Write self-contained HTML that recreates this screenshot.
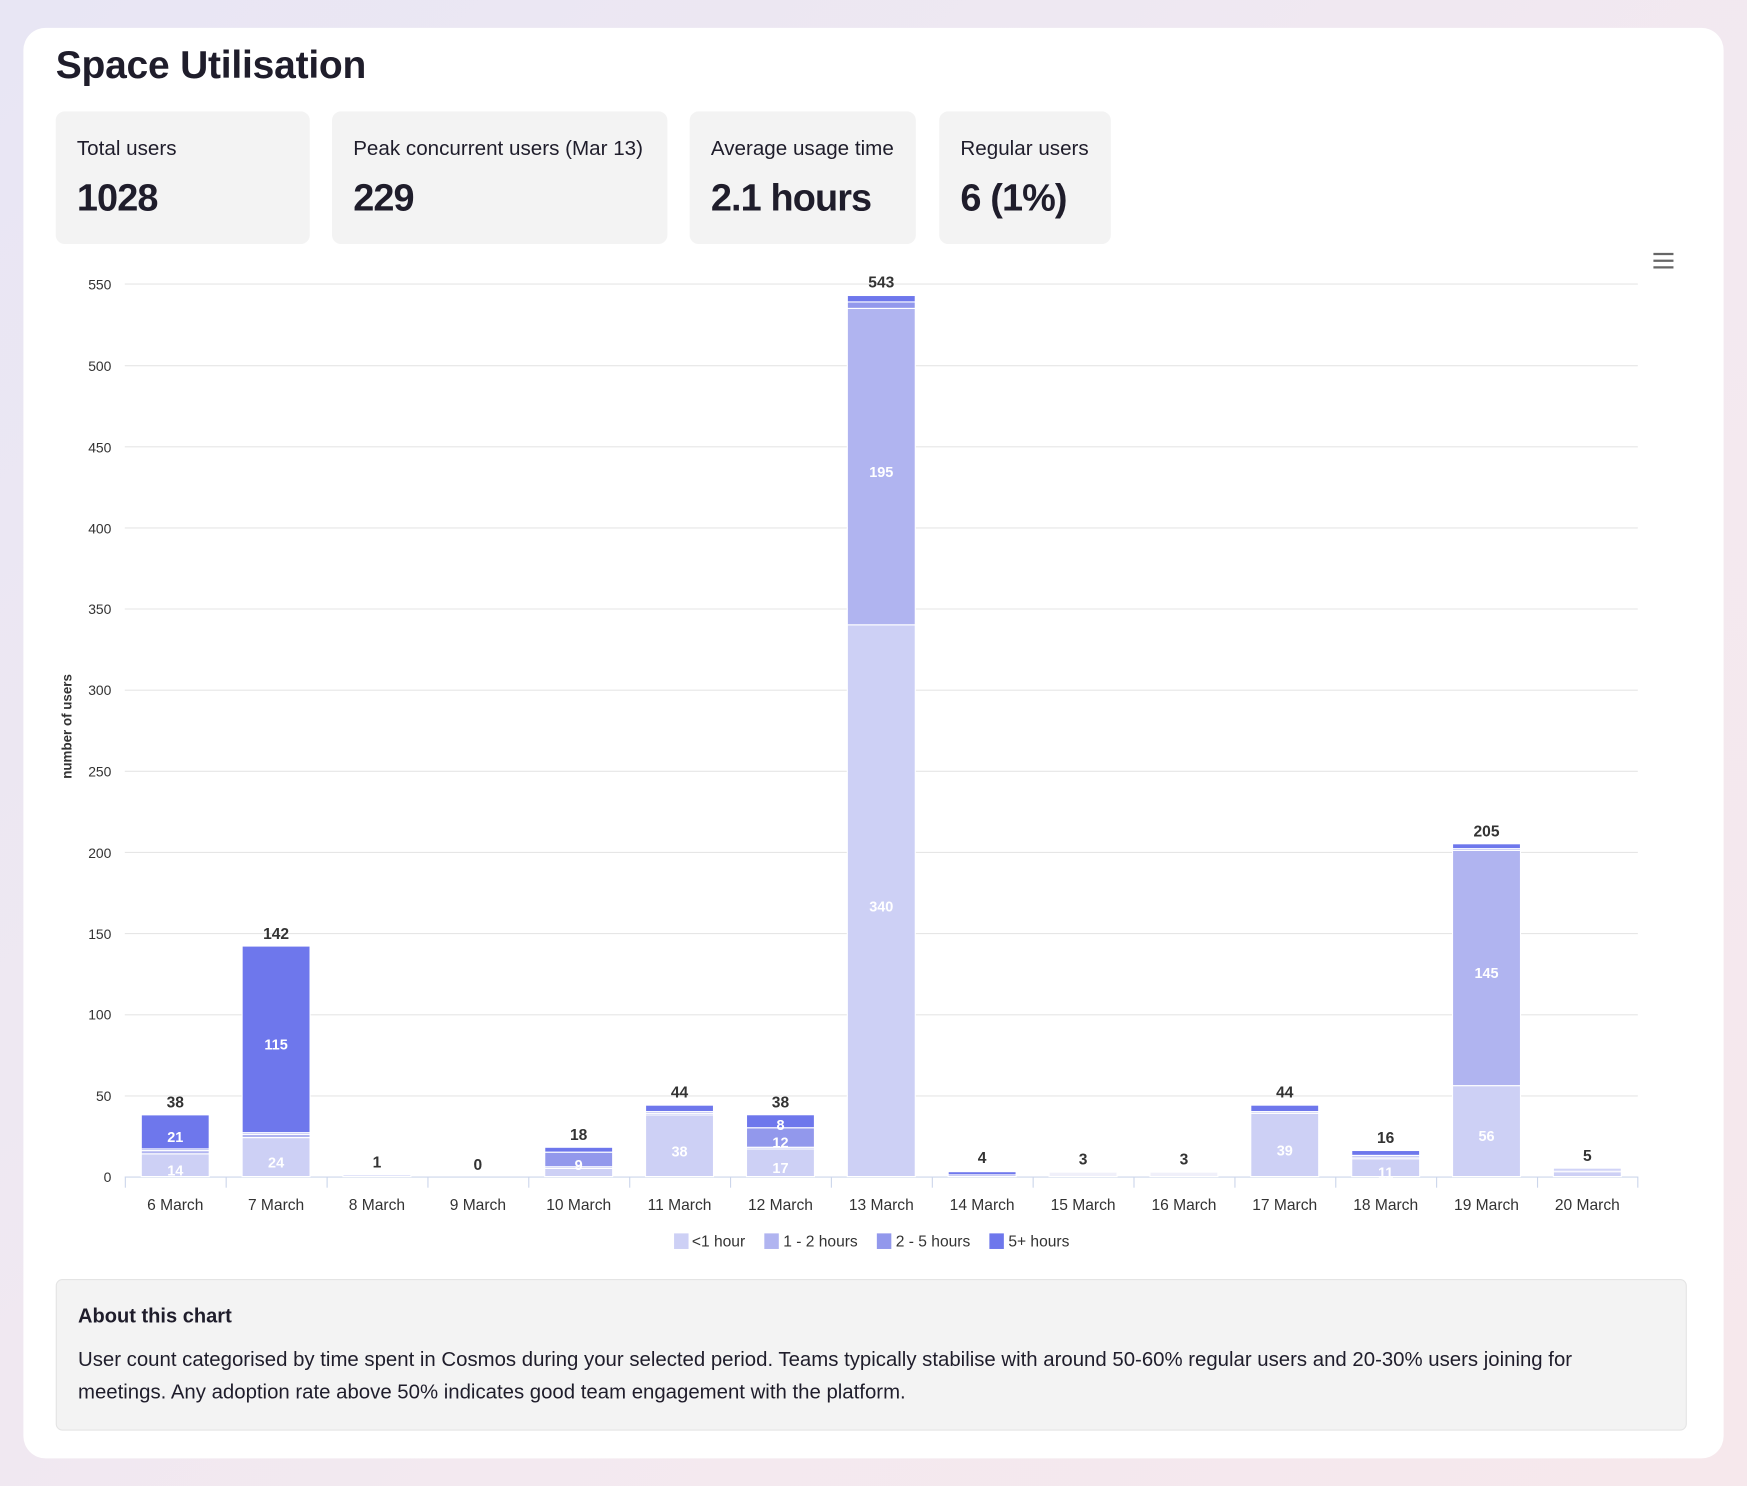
<!DOCTYPE html>
<html><head><meta charset="utf-8"><style>
html,body{margin:0;padding:0;width:1747px;height:1486px;overflow:hidden}
body{background:linear-gradient(135deg,#e8e6f4 0%,#f3e9f0 60%,#f6e8ec 100%)}
#w{position:absolute;left:0;top:0;width:1568px;height:1334px;transform:scale(1.11416);transform-origin:0 0;font-family:"Liberation Sans",sans-serif;color:#1f1d2b}
.card{position:absolute;left:21px;top:25px;width:1526px;height:1284px;background:#fff;border-radius:20px}
h1{position:absolute;left:50px;top:39px;margin:0;font-size:35px;font-weight:bold;letter-spacing:-0.2px}
.st{position:absolute;top:100px;height:119px;background:#f3f3f3;border-radius:8px}
.st .l{position:absolute;left:19px;top:22px;font-size:18.5px;white-space:nowrap}
.st .v{position:absolute;left:19px;top:59px;font-size:34px;font-weight:bold;white-space:nowrap;letter-spacing:-0.8px}
.ab{position:absolute;left:50px;top:1148px;width:1462px;height:134px;background:#f3f3f3;border:1px solid #e4e4e4;border-radius:6px}
.ab b{position:absolute;left:19px;top:22px;font-size:18px}
.ab p{position:absolute;left:19px;top:56px;margin:0;width:1440px;font-size:18.3px;line-height:29px;white-space:nowrap}
svg{position:absolute;left:0;top:0}
</style></head><body><div id="w">
<div class="card"></div>
<h1>Space Utilisation</h1>
<div class="st" style="left:50px;width:228px"><div class="l">Total users</div><div class="v">1028</div></div>
<div class="st" style="left:298px;width:301px"><div class="l">Peak concurrent users (Mar 13)</div><div class="v">229</div></div>
<div class="st" style="left:619px;width:203px"><div class="l">Average usage time</div><div class="v">2.1 hours</div></div>
<div class="st" style="left:843px;width:154px"><div class="l">Regular users</div><div class="v">6 (1%)</div></div>
<svg width="1568" height="1334" font-family="Liberation Sans, sans-serif">
<g stroke="#666" stroke-width="2"><line x1="1484" y1="228" x2="1502" y2="228"/><line x1="1484" y1="234" x2="1502" y2="234"/><line x1="1484" y1="240" x2="1502" y2="240"/></g>
<g stroke="#e6e6e6" stroke-width="1">
<line x1="112" y1="255" x2="1470" y2="255"/><line x1="112" y1="328.2" x2="1470" y2="328.2"/><line x1="112" y1="401" x2="1470" y2="401"/><line x1="112" y1="473.8" x2="1470" y2="473.8"/><line x1="112" y1="546.6" x2="1470" y2="546.6"/><line x1="112" y1="619.5" x2="1470" y2="619.5"/><line x1="112" y1="692.3" x2="1470" y2="692.3"/><line x1="112" y1="765.1" x2="1470" y2="765.1"/><line x1="112" y1="837.9" x2="1470" y2="837.9"/><line x1="112" y1="910.8" x2="1470" y2="910.8"/><line x1="112" y1="983.6" x2="1470" y2="983.6"/></g>
<g font-size="12.5" fill="#333" text-anchor="end">
<text x="100" y="260">550</text><text x="100" y="333">500</text><text x="100" y="406">450</text><text x="100" y="479">400</text><text x="100" y="551">350</text><text x="100" y="624">300</text><text x="100" y="697">250</text><text x="100" y="770">200</text><text x="100" y="843">150</text><text x="100" y="915">100</text><text x="100" y="988">50</text><text x="100" y="1061">0</text></g>
<text transform="translate(64,652) rotate(-90)" font-size="12" font-weight="bold" fill="#333" text-anchor="middle">number of users</text>
<line x1="112" y1="1056.5" x2="1470" y2="1056.5" stroke="#ccd6eb"/>
<g stroke="#ccd6eb"><line x1="112.5" y1="1056" x2="112.5" y2="1066"/><line x1="203" y1="1056" x2="203" y2="1066"/><line x1="293.6" y1="1056" x2="293.6" y2="1066"/><line x1="384.1" y1="1056" x2="384.1" y2="1066"/><line x1="474.6" y1="1056" x2="474.6" y2="1066"/><line x1="565.2" y1="1056" x2="565.2" y2="1066"/><line x1="655.7" y1="1056" x2="655.7" y2="1066"/><line x1="746.2" y1="1056" x2="746.2" y2="1066"/><line x1="836.8" y1="1056" x2="836.8" y2="1066"/><line x1="927.3" y1="1056" x2="927.3" y2="1066"/><line x1="1017.8" y1="1056" x2="1017.8" y2="1066"/><line x1="1108.4" y1="1056" x2="1108.4" y2="1066"/><line x1="1198.9" y1="1056" x2="1198.9" y2="1066"/><line x1="1289.4" y1="1056" x2="1289.4" y2="1066"/><line x1="1380" y1="1056" x2="1380" y2="1066"/><line x1="1470" y1="1056" x2="1470" y2="1066"/></g>
<g stroke="#fff" stroke-width="1">
<rect x="126.8" y="1035.6" width="61" height="20.4" fill="#cdd0f5"/><rect x="126.8" y="1032.7" width="61" height="2.9" fill="#b0b4f0"/><rect x="126.8" y="1031.2" width="61" height="1.5" fill="#9298ec"/><rect x="126.8" y="1000.6" width="61" height="30.6" fill="#6e77ec"/>
<rect x="217.3" y="1021" width="61" height="35" fill="#cdd0f5"/><rect x="217.3" y="1018.1" width="61" height="2.9" fill="#b0b4f0"/><rect x="217.3" y="1016.6" width="61" height="1.5" fill="#9298ec"/><rect x="217.3" y="849.1" width="61" height="167.5" fill="#6e77ec"/>
<rect x="307.8" y="1054.5" width="61" height="1.5" fill="#cdd0f5"/>
<rect x="488.9" y="1048.7" width="61" height="7.3" fill="#cdd0f5"/><rect x="488.9" y="1047.2" width="61" height="1.5" fill="#b0b4f0"/><rect x="488.9" y="1034.1" width="61" height="13.1" fill="#9298ec"/><rect x="488.9" y="1029.7" width="61" height="4.4" fill="#6e77ec"/>
<rect x="579.4" y="1000.7" width="61" height="55.3" fill="#cdd0f5"/><rect x="579.4" y="999.2" width="61" height="1.5" fill="#b0b4f0"/><rect x="579.4" y="997.7" width="61" height="1.5" fill="#9298ec"/><rect x="579.4" y="991.9" width="61" height="5.8" fill="#6e77ec"/>
<rect x="670" y="1031.2" width="61" height="24.8" fill="#cdd0f5"/><rect x="670" y="1029.7" width="61" height="1.5" fill="#b0b4f0"/><rect x="670" y="1012.2" width="61" height="17.5" fill="#9298ec"/><rect x="670" y="1000.5" width="61" height="11.7" fill="#6e77ec"/>
<rect x="760.5" y="560.8" width="61" height="495.2" fill="#cdd0f5"/><rect x="760.5" y="276.8" width="61" height="284" fill="#b0b4f0"/><rect x="760.5" y="271" width="61" height="5.8" fill="#9298ec"/><rect x="760.5" y="265.2" width="61" height="5.8" fill="#6e77ec"/>
<rect x="851" y="1054.5" width="61" height="1.5" fill="#9298ec"/><rect x="851" y="1051.6" width="61" height="2.9" fill="#6e77ec"/>
<rect x="941.6" y="1052" width="61" height="4" fill="#f0f0fa"/>
<rect x="1032.1" y="1052" width="61" height="4" fill="#f0f0fa"/>
<rect x="1122.6" y="999.2" width="61" height="56.8" fill="#cdd0f5"/><rect x="1122.6" y="997.7" width="61" height="1.5" fill="#b0b4f0"/><rect x="1122.6" y="991.9" width="61" height="5.8" fill="#6e77ec"/>
<rect x="1213.2" y="1040" width="61" height="16" fill="#cdd0f5"/><rect x="1213.2" y="1038.5" width="61" height="1.5" fill="#b0b4f0"/><rect x="1213.2" y="1037" width="61" height="1.5" fill="#9298ec"/><rect x="1213.2" y="1032.6" width="61" height="4.4" fill="#6e77ec"/>
<rect x="1303.7" y="974.4" width="61" height="81.6" fill="#cdd0f5"/><rect x="1303.7" y="763.2" width="61" height="211.2" fill="#b0b4f0"/><rect x="1303.7" y="761.7" width="61" height="1.5" fill="#9298ec"/><rect x="1303.7" y="757.3" width="61" height="4.4" fill="#6e77ec"/>
<rect x="1394.2" y="1051.6" width="61" height="4.4" fill="#cdd0f5"/><rect x="1394.2" y="1050.1" width="61" height="1.5" fill="#b0b4f0"/><rect x="1394.2" y="1048.6" width="61" height="1.5" fill="#9298ec"/>
</g>
<g font-size="13" font-weight="bold" fill="#fff" text-anchor="middle">
<text x="157.3" y="1055">14</text><text x="157.3" y="1025">21</text>
<text x="247.8" y="1048">24</text><text x="247.8" y="942">115</text>
<text x="519.4" y="1050">9</text><text x="609.9" y="1038">38</text>
<text x="700.5" y="1053">17</text><text x="700.5" y="1030">12</text><text x="700.5" y="1014">8</text>
<text x="791" y="818">340</text><text x="791" y="428">195</text>
<text x="1153.1" y="1037">39</text><text x="1243.7" y="1057">11</text>
<text x="1334.2" y="1024">56</text><text x="1334.2" y="878">145</text></g>
<g font-size="14" font-weight="bold" fill="#333" text-anchor="middle">
<text x="157.3" y="994">38</text><text x="247.8" y="843">142</text><text x="338.3" y="1048">1</text><text x="428.9" y="1050">0</text><text x="519.4" y="1023">18</text><text x="609.9" y="985">44</text><text x="700.5" y="994">38</text><text x="791" y="258">543</text><text x="881.5" y="1044">4</text><text x="972.1" y="1045">3</text><text x="1062.6" y="1045">3</text><text x="1153.1" y="985">44</text><text x="1243.7" y="1026">16</text><text x="1334.2" y="751">205</text><text x="1424.7" y="1042">5</text></g>
<g font-size="14" fill="#333" text-anchor="middle">
<text x="157.3" y="1086">6 March</text><text x="247.8" y="1086">7 March</text><text x="338.3" y="1086">8 March</text><text x="428.9" y="1086">9 March</text><text x="519.4" y="1086">10 March</text><text x="609.9" y="1086">11 March</text><text x="700.5" y="1086">12 March</text><text x="791" y="1086">13 March</text><text x="881.5" y="1086">14 March</text><text x="972.1" y="1086">15 March</text><text x="1062.6" y="1086">16 March</text><text x="1153.1" y="1086">17 March</text><text x="1243.7" y="1086">18 March</text><text x="1334.2" y="1086">19 March</text><text x="1424.7" y="1086">20 March</text></g>
<rect x="605" y="1107" width="13" height="14" fill="#cdd0f5"/><rect x="686" y="1107" width="13" height="14" fill="#b0b4f0"/><rect x="787" y="1107" width="13" height="14" fill="#9298ec"/><rect x="888" y="1107" width="13" height="14" fill="#6e77ec"/>
<g font-size="14" fill="#333"><text x="621" y="1119">&lt;1 hour</text><text x="703" y="1119">1 - 2 hours</text><text x="804" y="1119">2 - 5 hours</text><text x="905" y="1119">5+ hours</text></g>
</svg>
<div class="ab"><b>About this chart</b><p>User count categorised by time spent in Cosmos during your selected period. Teams typically stabilise with around 50-60% regular users and 20-30% users joining for<br>meetings. Any adoption rate above 50% indicates good team engagement with the platform.</p></div>
</div></body></html>
